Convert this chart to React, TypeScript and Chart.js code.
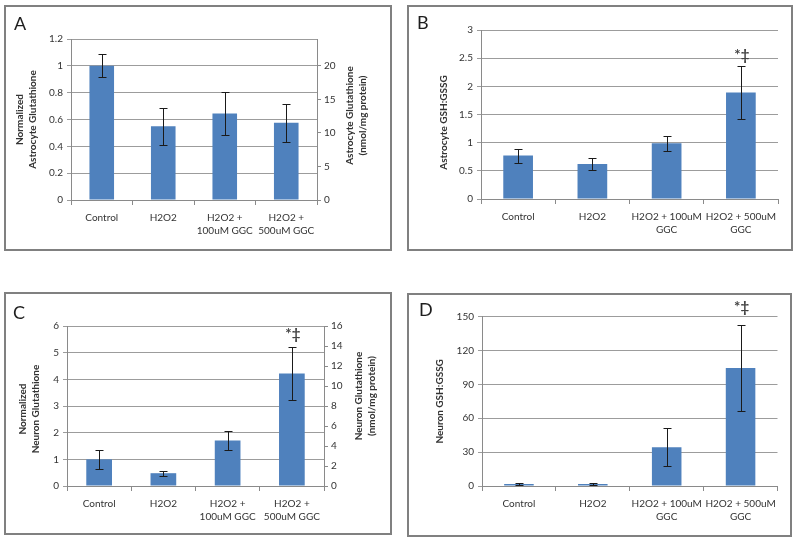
import React, { useEffect, useRef } from "react";
import { Chart, registerables } from "chart.js";

Chart.register(...registerables);

// ---------- data ----------
const categoriesAC = [["Control"], ["H2O2"], ["H2O2 +", "100uM GGC"], ["H2O2 +", "500uM GGC"]];
const categoriesBD = [["Control"], ["H2O2"], ["H2O2 + 100uM", "GGC"], ["H2O2 + 500uM", "GGC"]];

const astroGSH = [1.0, 0.55, 0.645, 0.575];
const astroGSHErr = [0.085, 0.137, 0.16, 0.14];

const astroRatio = [0.77, 0.62, 0.99, 1.89];
const astroRatioErr = [0.125, 0.1, 0.13, 0.475];

const neuronGSH = [1.0, 0.48, 1.71, 4.22];
const neuronGSHErr = [0.35, 0.1, 0.36, 0.98];

const neuronRatio = [1.8, 1.8, 34.3, 104.5];
const neuronRatioErr = [0.6, 0.6, 16.8, 37.8];

const significanceMark = "*‡";
const panelLetters = ["A", "B", "C", "D"];

// ---------- styles ----------
const FONT = 'Lato, "Open Sans", "DejaVu Sans", sans-serif';
const BAR = "#4F81BD";
const GRID = "#9c9c9c";
const AXIS = "#8a8a8a";
const TEXT = "#333333";

type PanelCfg = {
  letter: string;
  cats: string[][];
  values: number[];
  errs: number[];
  yMax: number;
  yStep: number;
  rightMax?: number;
  rightStep?: number;
  leftTitle: string[];
  rightTitle?: string[];
  markIndex: number;
  box: [number, number, number, number];
  area: { left: number; right: number; top: number; bottom: number };
  leftTitleX: number;
  leftTitleDy: number;
  rightTitleX?: number;
  rightTitleDy?: number;
  markGap: number;
  letterPos: [number, number];
};

const panels: PanelCfg[] = [
  {
    letter: panelLetters[0],
    cats: categoriesAC,
    values: astroGSH,
    errs: astroGSHErr,
    yMax: 1.2,
    yStep: 0.2,
    rightMax: 24,
    rightStep: 5,
    leftTitle: ["Normalized", "Astrocyte Glutathione"],
    rightTitle: ["Astrocyte Glutathione", "(nmol/mg protein)"],
    markIndex: -1,
    box: [4, 5, 388, 246],
    area: { left: 65, right: 311, top: 32, bottom: 193 },
    leftTitleX: 20,
    leftTitleDy: 0,
    rightTitleX: 350,
    rightTitleDy: -4,
    markGap: 13,
    letterPos: [8, 23],
  },
  {
    letter: panelLetters[1],
    cats: categoriesBD,
    values: astroRatio,
    errs: astroRatioErr,
    yMax: 3,
    yStep: 0.5,
    leftTitle: ["Astrocyte GSH:GSSG"],
    markIndex: 3,
    box: [407, 5, 386, 246],
    area: { left: 72, right: 369, top: 23, bottom: 192 },
    leftTitleX: 35,
    leftTitleDy: 8,
    markGap: 11,
    letterPos: [8, 22],
  },
  {
    letter: panelLetters[2],
    cats: categoriesAC,
    values: neuronGSH,
    errs: neuronGSHErr,
    yMax: 6,
    yStep: 1,
    rightMax: 16,
    rightStep: 2,
    leftTitle: ["Normalized", "Neuron Glutathione"],
    rightTitle: ["Neuron Glutathione", "(nmol/mg protein)"],
    markIndex: 3,
    box: [4, 292, 388, 243],
    area: { left: 61, right: 318, top: 32, bottom: 192 },
    leftTitleX: 23.5,
    leftTitleDy: 3,
    rightTitleX: 359,
    rightTitleDy: -10,
    markGap: 13,
    letterPos: [7, 25],
  },
  {
    letter: panelLetters[3],
    cats: categoriesBD,
    values: neuronRatio,
    errs: neuronRatioErr,
    yMax: 150,
    yStep: 30,
    leftTitle: ["Neuron GSH:GSSG"],
    markIndex: 3,
    box: [407, 293, 385, 244],
    area: { left: 73, right: 368.5, top: 21.7, bottom: 191 },
    leftTitleX: 31,
    leftTitleDy: 0,
    markGap: 18,
    letterPos: [10, 21],
  },
];

const fmt = (v: any) => String(Number(Number(v).toFixed(3)));

function makeOverlay(cfg: PanelCfg) {
  return {
    id: "overlay" + cfg.letter,
    afterDatasetsDraw(chart: any) {
      const ctx = chart.ctx as CanvasRenderingContext2D;
      const meta = chart.getDatasetMeta(0);
      const ys = chart.scales.y;
      const ca = chart.chartArea;
      ctx.save();
      // error bars
      ctx.strokeStyle = "#1a1a1a";
      ctx.lineWidth = 1;
      cfg.values.forEach((v, i) => {
        const el = meta.data[i];
        const x = Math.round(el.x) + 0.5;
        const t = Math.round(ys.getPixelForValue(v + cfg.errs[i])) + 0.5;
        const b = Math.round(ys.getPixelForValue(v - cfg.errs[i])) + 0.5;
        ctx.beginPath();
        ctx.moveTo(x, t);
        ctx.lineTo(x, b);
        ctx.moveTo(x - 4, t);
        ctx.lineTo(x + 4, t);
        ctx.moveTo(x - 4, b);
        ctx.lineTo(x + 4, b);
        ctx.stroke();
      });
      // significance mark
      if (cfg.markIndex >= 0) {
        const i = cfg.markIndex;
        const el = meta.data[i];
        const t = ys.getPixelForValue(cfg.values[i] + cfg.errs[i]);
        ctx.fillStyle = "#444";
        ctx.font = `bold 15px ${FONT}`;
        ctx.textAlign = "center";
        ctx.textBaseline = "middle";
        ctx.fillText(significanceMark, el.x + 1, t - cfg.markGap);
      }
      // axis titles
      const cy = (ca.top + ca.bottom) / 2;
      const drawTitle = (lines: string[], cx: number, dy: number) => {
        ctx.font = `bold 10px ${FONT}`;
        ctx.fillStyle = "#333";
        ctx.textAlign = "center";
        ctx.textBaseline = "middle";
        const lh = 13;
        lines.forEach((line, k) => {
          const x = cx + (k - (lines.length - 1) / 2) * lh;
          ctx.save();
          ctx.translate(x, cy + dy);
          ctx.rotate(-Math.PI / 2);
          ctx.fillText(line, 0, 0);
          ctx.restore();
        });
      };
      drawTitle(cfg.leftTitle, cfg.leftTitleX, cfg.leftTitleDy);
      if (cfg.rightTitle) drawTitle(cfg.rightTitle, cfg.rightTitleX!, cfg.rightTitleDy!);
      // panel letter
      ctx.font = `18px ${FONT}`;
      ctx.fillStyle = "#1e1e1e";
      ctx.textAlign = "left";
      ctx.textBaseline = "alphabetic";
      ctx.fillText(cfg.letter, cfg.letterPos[0], cfg.letterPos[1]);
      ctx.restore();
    },
  };
}

function Panel({ cfg }: { cfg: PanelCfg }) {
  const ref = useRef<HTMLCanvasElement>(null);
  const w = cfg.box[2] - 4;
  const h = cfg.box[3] - 4;
  useEffect(() => {
    if (!ref.current) return;
    const a = cfg.area;
    const tickFont = { family: FONT, size: 10, lineHeight: 1.25 };
    const scales: any = {
      x: {
        type: "category",
        offset: true,
        grid: {
          display: true,
          drawOnChartArea: false,
          drawTicks: true,
          tickLength: 5,
          color: AXIS,
          offset: true,
        },
        border: { display: true, color: AXIS },
        ticks: { color: TEXT, font: tickFont, padding: 7, maxRotation: 0, autoSkip: false },
        afterFit: (s: any) => {
          s.height = h - a.bottom;
        },
      },
      y: {
        position: "left",
        min: 0,
        max: cfg.yMax,
        ticks: { stepSize: cfg.yStep, color: TEXT, font: tickFont, padding: 4, callback: fmt },
        grid: { color: GRID, tickLength: 4, drawTicks: true },
        border: { display: true, color: AXIS },
        afterFit: (s: any) => {
          s.width = a.left;
        },
      },
    };
    if (cfg.rightMax) {
      scales.y2 = {
        position: "right",
        min: 0,
        max: cfg.rightMax,
        ticks: {
          stepSize: cfg.rightStep,
          includeBounds: false,
          color: TEXT,
          font: tickFont,
          padding: 3,
          callback: fmt,
        },
        grid: { drawOnChartArea: false, tickLength: 4, color: AXIS },
        border: { display: true, color: AXIS },
        afterFit: (s: any) => {
          s.width = w - a.right;
        },
      };
    }
    const chart = new Chart(ref.current, {
      type: "bar",
      data: {
        labels: cfg.cats,
        datasets: [
          {
            data: cfg.values,
            backgroundColor: BAR,
            borderWidth: 0,
            barPercentage: 0.4,
            categoryPercentage: 1,
          },
        ],
      },
      options: {
        responsive: false,
        animation: false,
        devicePixelRatio: 1,
        layout: {
          padding: {
            top: a.top,
            left: 0,
            bottom: 0,
            right: cfg.rightMax ? 0 : w - a.right,
          },
        },
        plugins: { legend: { display: false }, tooltip: { enabled: false } },
        scales,
      } as any,
      plugins: [makeOverlay(cfg)],
    });
    return () => chart.destroy();
  }, []);
  return (
    <div
      style={{
        position: "absolute",
        left: cfg.box[0],
        top: cfg.box[1],
        width: cfg.box[2],
        height: cfg.box[3],
        border: "2px solid #808080",
        boxSizing: "border-box",
        background: "#fff",
      }}
    >
      <canvas ref={ref} width={w} height={h} style={{ display: "block" }} />
    </div>
  );
}

export default function App() {
  return (
    <div style={{ position: "absolute", left: 0, top: 0, width: 800, height: 542, background: "#fff" }}>
      {panels.map((p) => (
        <Panel key={p.letter} cfg={p} />
      ))}
    </div>
  );
}
